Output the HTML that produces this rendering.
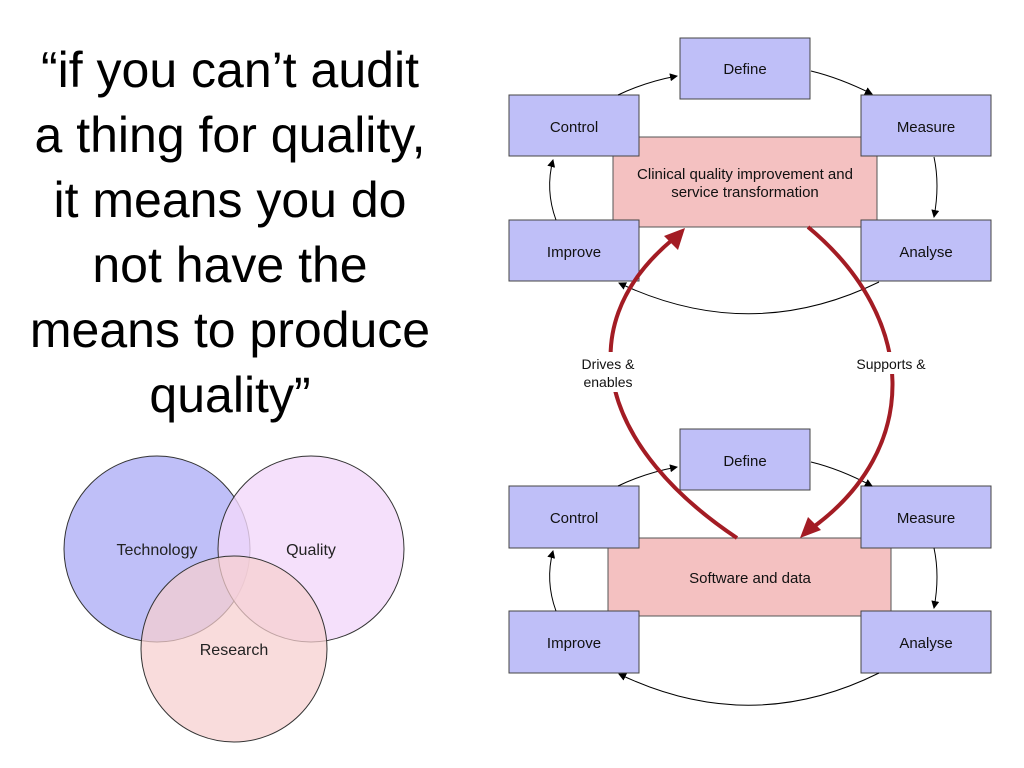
<!DOCTYPE html>
<html><head><style>
body{margin:0;width:1024px;height:768px;background:#fff;overflow:hidden;font-family:"Liberation Sans",sans-serif}
.q{position:absolute;left:0;top:38px;width:460px;text-align:center;font-size:50px;line-height:65px;color:#000}
</style></head><body>
<div class="q">“if you can’t audit<br>a thing for quality,<br>it means you do<br>not have the<br>means to produce<br>quality”</div>
<svg width="1024" height="768" style="position:absolute;left:0;top:0" font-family="Liberation Sans, sans-serif">
<defs>
<marker id="a" markerWidth="8" markerHeight="8" refX="7" refY="4" orient="auto" markerUnits="userSpaceOnUse"><path d="M0,0 L8,4 L0,8 z" fill="#000"/></marker>
</defs>
<circle cx="157" cy="549" r="93" fill="#bfbff8" stroke="#333" stroke-width="1"/>
<circle cx="311" cy="549" r="93" fill="#f3d8fa" fill-opacity="0.8" stroke="#333" stroke-width="1"/>
<circle cx="234" cy="649" r="93" fill="#f6cfcf" fill-opacity="0.72" stroke="#333" stroke-width="1"/>
<g font-size="16" text-anchor="middle" fill="#222">
<text x="157" y="555">Technology</text><text x="311" y="555">Quality</text><text x="234" y="655">Research</text>
</g>
<g>
<rect x="613" y="137" width="264" height="90" fill="#f4c1c1" stroke="#555"/>
<g fill="#bfbff8" stroke="#444">
<rect x="680" y="38" width="130" height="61"/><rect x="509" y="95" width="130" height="61"/><rect x="861" y="95" width="130" height="61"/><rect x="509" y="220" width="130" height="61"/><rect x="861" y="220" width="130" height="61"/>
</g>
<g fill="none" stroke="#000" stroke-width="1" marker-end="url(#a)">
<path d="M618,95 Q645,82 677,76"/>
<path d="M811,71 Q840,78 872,94"/>
<path d="M934,157 Q940,185 934,217"/>
<path d="M879,282 Q750,345 619,283"/>
<path d="M556,220 Q545,190 553,160"/>
</g>
<g font-size="15" text-anchor="middle" fill="#111">
<text x="745" y="74">Define</text><text x="574" y="132">Control</text><text x="926" y="132">Measure</text><text x="574" y="257">Improve</text><text x="926" y="257">Analyse</text>
<text x="745" y="179">Clinical quality improvement and</text><text x="745" y="197">service transformation</text>
</g>
</g>
<g>
<rect x="608" y="538" width="283" height="78" fill="#f4c1c1" stroke="#555"/>
<g fill="#bfbff8" stroke="#444">
<rect x="680" y="429" width="130" height="61"/><rect x="509" y="486" width="130" height="62"/><rect x="861" y="486" width="130" height="62"/><rect x="509" y="611" width="130" height="62"/><rect x="861" y="611" width="130" height="62"/>
</g>
<g fill="none" stroke="#000" stroke-width="1" marker-end="url(#a)">
<path d="M618,486 Q645,473 677,467"/>
<path d="M811,462 Q840,469 872,486"/>
<path d="M934,548 Q940,576 934,608"/>
<path d="M879,673 Q750,737 619,674"/>
<path d="M556,611 Q545,581 553,551"/>
</g>
<g font-size="15" text-anchor="middle" fill="#111">
<text x="745" y="466">Define</text><text x="574" y="523">Control</text><text x="926" y="523">Measure</text><text x="574" y="648">Improve</text><text x="926" y="648">Analyse</text>
<text x="750" y="583">Software and data</text>
</g>
</g>
<g fill="none" stroke="#a31c24" stroke-width="4">
<path d="M737,538 C605,450 565,330 672,240"/>
<path d="M808,227 C920,320 920,450 812,528"/>
</g>
<path d="M685,228 L664,236 L678,250 z" fill="#a31c24"/>
<path d="M800,538 L821,530 L808,517 z" fill="#a31c24"/>
<rect x="570" y="352" width="78" height="40" fill="#fff"/>
<rect x="845" y="352" width="92" height="22" fill="#fff"/>
<g font-size="14" text-anchor="middle" fill="#111">
<text x="608" y="369">Drives &amp;</text><text x="608" y="387">enables</text>
<text x="891" y="369">Supports &amp;</text>
</g>
</svg>
</body></html>
